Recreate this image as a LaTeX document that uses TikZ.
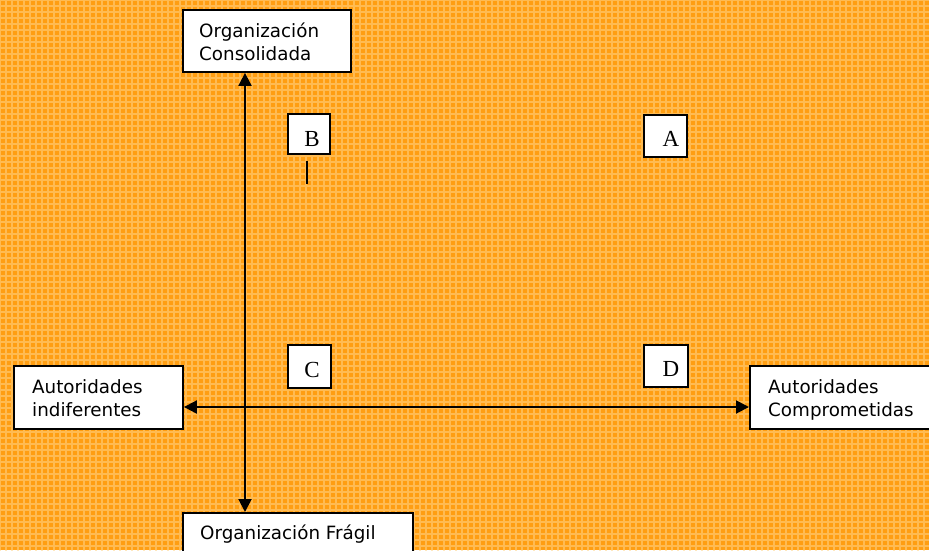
\documentclass[tikz,border=0pt]{standalone}
\usepackage{fontspec}
\setmainfont{DejaVu Sans}
\newfontfamily\letterfont{Liberation Serif}
\usetikzlibrary{arrows.meta}
\definecolor{bgorange}{RGB}{255,158,18}
\definecolor{bglight}{RGB}{255,212,135}
\tikzset{
  box/.style={draw=black, line width=1.9pt, fill=white, rectangle, inner sep=0pt, anchor=north west},
  lbl/.style={anchor=base west, inner sep=0pt, font=\fontsize{18.3}{23}\selectfont},
  letter/.style={anchor=base, inner sep=0pt, font=\letterfont\fontsize{23}{26}\selectfont},
  arr/.style={line width=1.9pt, {Triangle[length=13pt,width=13pt]}-{Triangle[length=13pt,width=13pt]}}
}
\begin{document}
\begin{tikzpicture}[x=1pt,y=-1pt]
\clip (0,0) rectangle (929,550);
\fill[bgorange] (0,0) rectangle (929,550);
\draw[bglight, line width=1.6pt, opacity=0.55] (0,0) grid[step=6pt] (930,552);
% boxes
\node[box, minimum width=168pt, minimum height=62pt] (oc) at (182,9) {};
\node[box, minimum width=230pt, minimum height=60pt] (of) at (182,512) {};
\node[box, minimum width=169pt, minimum height=63pt] (ai) at (13,365) {};
\node[box, minimum width=200pt, minimum height=63pt] (ac) at (749,365) {};
\node[box, minimum width=42pt, minimum height=40pt] (bb) at (287,113) {};
\node[box, minimum width=43pt, minimum height=42pt] (ab) at (643,114) {};
\node[box, minimum width=43pt, minimum height=43pt] (cb) at (287,344) {};
\node[box, minimum width=44pt, minimum height=42pt] (db) at (643,344) {};
% texts
\node[lbl] (oc1) at (199,37) {Organización};
\node[lbl] (oc2) at (199,60) {Consolidada};
\node[lbl] (of1) at (200,539) {Organización Frágil};
\node[lbl] (ai1) at (32,393) {Autoridades};
\node[lbl] (ai2) at (32,416) {indiferentes};
\node[lbl] (ac1) at (768,393) {Autoridades};
\node[lbl] (ac2) at (768,416) {Comprometidas};
\node[letter] (bl) at (312,146) {B};
\node[letter] (al) at (671,146) {A};
\node[letter] (cl) at (312,377) {C};
\node[letter] (dl) at (671,376) {D};
% axes
\coordinate (vx) at (245,0);
\coordinate (hy) at (0,407);
\draw[arr] (oc.south -| vx) -- (of.north -| vx);
\draw[arr] (ai.east |- hy) -- (ac.west |- hy);
% small tick under B
\coordinate (t1) at (307,161);
\coordinate (t2) at (307,184);
\draw[line width=1.9pt] (t1) -- (t2);
\end{tikzpicture}
\end{document}
